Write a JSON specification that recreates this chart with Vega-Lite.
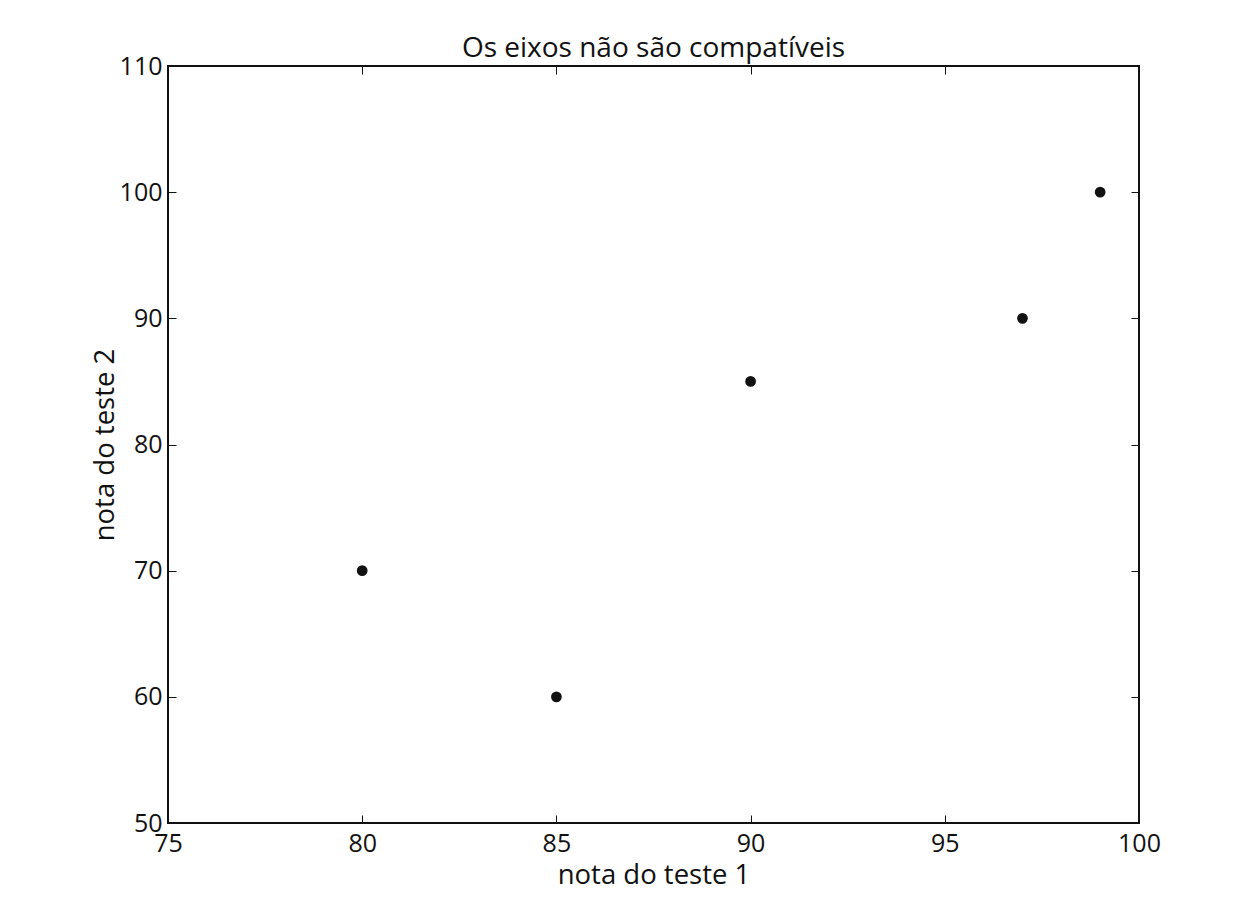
{
  "$schema": "https://vega.github.io/schema/vega-lite/v6.json",
  "autosize": {"type": "none"},
  "padding": {"left": 168, "top": 66, "right": 94, "bottom": 95},
  "width": 971,
  "height": 757,
  "background": "white",
  "title": {
    "text": "Os eixos não são compatíveis",
    "font": "Open Sans",
    "fontSize": 28,
    "fontWeight": "normal",
    "color": "#111",
    "anchor": "middle",
    "offset": -9
  },
  "config": {
    "view": {"stroke": "#111", "strokeWidth": 2},
    "axis": {
      "domain": false,
      "grid": false,
      "tickColor": "#111",
      "tickWidth": 1,
      "tickSize": -8,
      "labelFont": "Open Sans",
      "labelFontSize": 25,
      "labelColor": "#111",
      "titleFont": "Open Sans",
      "titleFontSize": 27.5,
      "titleFontWeight": "normal",
      "titleColor": "#111"
    }
  },
  "data": {
    "values": [
      {"teste1": 80, "teste2": 70},
      {"teste1": 85, "teste2": 60},
      {"teste1": 90, "teste2": 85},
      {"teste1": 97, "teste2": 90},
      {"teste1": 99, "teste2": 100}
    ]
  },
  "layer": [
    {
      "mark": {"type": "point", "filled": true, "color": "#111", "opacity": 1, "size": 115},
      "encoding": {
        "x": {
          "field": "teste1", "type": "quantitative",
          "scale": {"domain": [75, 100], "nice": false, "zero": false},
          "axis": {"orient": "bottom", "values": [75, 80, 85, 90, 95, 100], "title": "nota do teste 1",
                   "labelPadding": 16, "titleBaseline": "alphabetic", "titleY": 60, "labelFlush": false}
        },
        "y": {
          "field": "teste2", "type": "quantitative",
          "scale": {"domain": [50, 110], "nice": false, "zero": false},
          "axis": {"orient": "left", "values": [50, 60, 70, 80, 90, 100, 110], "title": "nota do teste 2",
                   "labelPadding": 14, "titleBaseline": "alphabetic", "titleX": -55, "labelFlush": false}
        }
      }
    },
    {
      "mark": {"type": "point", "filled": true, "opacity": 0},
      "encoding": {
        "x": {
          "field": "teste1", "type": "quantitative",
          "axis": {"orient": "top", "values": [75, 80, 85, 90, 95, 100], "labels": false, "title": null}
        },
        "y": {
          "field": "teste2", "type": "quantitative",
          "axis": {"orient": "right", "values": [50, 60, 70, 80, 90, 100, 110], "labels": false, "title": null}
        }
      }
    }
  ],
  "resolve": {"axis": {"x": "independent", "y": "independent"}}
}
